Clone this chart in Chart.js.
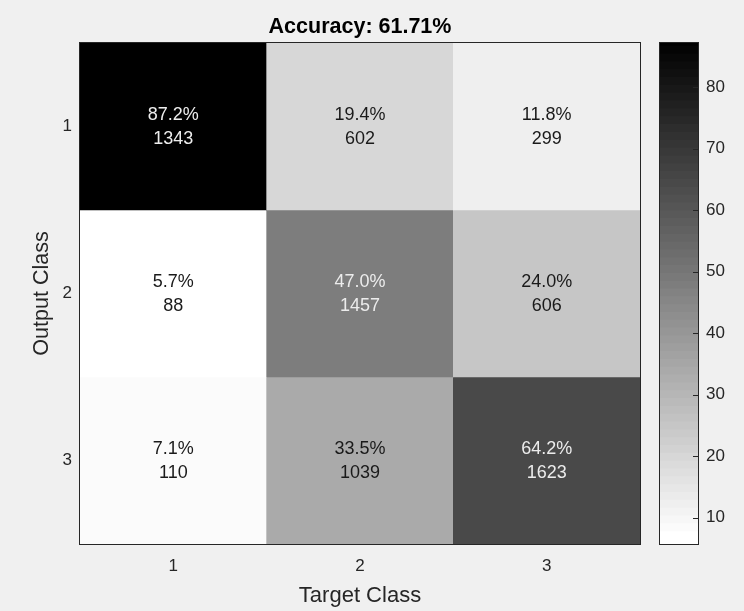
<!DOCTYPE html>
<html lang="en">
<head>
    <meta charset="UTF-8">
    <title>Matrice de confusion</title>
    <script src="https://cdn.jsdelivr.net/npm/chart.js@4.4.0/dist/chart.umd.min.js"></script>
    <style>
        body { margin: 0; background: #f0f0f0; }
        #zone { position: relative; width: 744px; height: 611px; }
        #zone canvas { position: absolute; left: 0; top: 0; }
    </style>
</head>
<body>
<div id="zone">
    <canvas id="matrice" width="744" height="611"></canvas>
    <canvas id="barre" width="744" height="611"></canvas>
</div>

<script>
    // classes (lignes = sortie, colonnes = cible)
    const classes = ['1', '2', '3'];
    const comptes = [
        [1343, 602, 299],
        [88, 1457, 606],
        [110, 1039, 1623]
    ];
    const pourcents = [
        [87.2, 19.4, 11.8],
        [5.7, 47.0, 24.0],
        [7.1, 33.5, 64.2]
    ];
    const titre = 'Accuracy: 61.71%';
    const barTicks = [10, 20, 30, 40, 50, 60, 70, 80];

    const police = "'Liberation Sans', Arial, sans-serif";
    const gris = '#262626';
    const NIVEAUX = 64;
    const vMin = Math.min(...pourcents.flat());
    const vMax = Math.max(...pourcents.flat());

    // colormap gris inversée (blanc = faible, noir = fort)
    let niveauGris = (v) => {
        let i = Math.floor((v - vMin) / (vMax - vMin) * NIVEAUX);
        i = Math.min(Math.max(i, 0), NIVEAUX - 1);
        return 1 - i / (NIVEAUX - 1);
    };
    let couleur = (g) => {
        let c = Math.round(g * 255);
        return 'rgb(' + c + ',' + c + ',' + c + ')';
    };

    // cadre autour de la zone du graphique
    const cadre = {
        id: 'cadre',
        afterDraw(chart) {
            let a = chart.chartArea;
            let ctx = chart.ctx;
            ctx.save();
            ctx.strokeStyle = gris;
            ctx.lineWidth = 1;
            ctx.strokeRect(Math.round(a.left) - 0.5, Math.round(a.top) - 0.5,
                Math.round(a.right - a.left) + 1, Math.round(a.bottom - a.top) + 1);
            ctx.restore();
        }
    };

    // pourcentage + nombre dans chaque case
    const texteCases = {
        id: 'texteCases',
        afterDatasetsDraw(chart) {
            let ctx = chart.ctx;
            ctx.save();
            ctx.font = '18px ' + police;
            ctx.textAlign = 'center';
            ctx.textBaseline = 'middle';
            chart.data.datasets.forEach((ds, i) => {
                chart.getDatasetMeta(i).data.forEach((bar, j) => {
                    let centre = bar.getCenterPoint();
                    let p = pourcents[i][j];
                    ctx.fillStyle = niveauGris(p) < 0.5 ? '#ececec' : '#1a1a1a';
                    ctx.fillText(p.toFixed(1) + '%', centre.x, centre.y - 11);
                    ctx.fillText(String(comptes[i][j]), centre.x, centre.y + 13);
                });
            });
            ctx.restore();
        }
    };

    // petits traits vers l'intérieur sur la barre de couleur
    const traits = {
        id: 'traits',
        afterDraw(chart) {
            let y = chart.scales.y;
            let a = chart.chartArea;
            let ctx = chart.ctx;
            ctx.save();
            ctx.strokeStyle = gris;
            ctx.lineWidth = 1;
            y.ticks.forEach(t => {
                let py = Math.round(y.getPixelForValue(t.value)) + 0.5;
                ctx.beginPath();
                ctx.moveTo(a.right - 5, py);
                ctx.lineTo(a.right, py);
                ctx.stroke();
            });
            ctx.restore();
        }
    };

    function buildMatrice() {
        let datasets = comptes.map((ligne, i) => ({
            label: 'Output ' + classes[i],
            data: ligne.map(() => 1),
            backgroundColor: pourcents[i].map(p => couleur(niveauGris(p))),
            borderWidth: 0,
            barPercentage: 1,
            categoryPercentage: 1
        }));

        return new Chart(document.querySelector('#matrice').getContext('2d'), {
            type: 'bar',
            data: { labels: classes, datasets: datasets },
            options: {
                responsive: false,
                animation: false,
                layout: { padding: { left: 0, right: 104, top: 0, bottom: 0 } },
                plugins: {
                    legend: { display: false },
                    tooltip: { enabled: false },
                    title: {
                        display: true,
                        text: titre,
                        fullSize: false,
                        color: '#000',
                        font: { family: police, size: 21.5, weight: 'bold' },
                        padding: { top: 14.5, bottom: 2.7 }
                    }
                },
                scales: {
                    x: {
                        stacked: true,
                        grid: { display: false, drawTicks: false },
                        border: { display: false },
                        ticks: { padding: 12, color: gris, font: { family: police, size: 17 } },
                        title: {
                            display: true, text: 'Target Class', color: gris,
                            font: { family: police, size: 22 },
                            padding: { top: 0, bottom: 1.8 }
                        },
                        afterFit: (s) => { s.height = 67; }
                    },
                    y: {
                        stacked: true,
                        reverse: true,
                        min: 0,
                        max: classes.length,
                        grid: { display: false, drawTicks: false },
                        border: { display: false },
                        afterBuildTicks: (s) => { s.ticks = classes.map((c, i) => ({ value: i + 0.5 })); },
                        ticks: {
                            padding: 8, color: gris, font: { family: police, size: 17 },
                            callback: (v) => classes[Math.floor(v)]
                        },
                        title: {
                            display: true, text: 'Output Class', color: gris,
                            font: { family: police, size: 21.5 },
                            padding: { top: 29.4, bottom: 0 }
                        },
                        afterFit: (s) => { s.width = 80; }
                    }
                }
            },
            plugins: [texteCases, cadre]
        });
    }

    function buildBarre() {
        // bandes de la colormap, du bas (blanc) vers le haut (noir)
        // chaque bande déborde un peu sous la suivante pour éviter les liserés
        let bandes = [];
        let pas = (vMax - vMin) / NIVEAUX;
        for (let i = 0; i < NIVEAUX; i++) {
            let bas = vMin + i * pas;
            bandes.push({
                data: [[bas, bas + pas * 1.6]],
                backgroundColor: couleur(1 - i / (NIVEAUX - 1)),
                borderWidth: 0,
                grouped: false,
                barPercentage: 1,
                categoryPercentage: 1
            });
        }

        return new Chart(document.querySelector('#barre').getContext('2d'), {
            type: 'bar',
            data: { labels: [''], datasets: bandes },
            options: {
                responsive: false,
                animation: false,
                layout: { padding: { left: 660, right: 0, top: 43, bottom: 67 } },
                plugins: { legend: { display: false }, tooltip: { enabled: false } },
                scales: {
                    x: { display: false },
                    y: {
                        position: 'right',
                        min: vMin,
                        max: vMax,
                        grid: { display: false, drawTicks: false },
                        border: { display: false },
                        afterBuildTicks: (s) => { s.ticks = barTicks.map(v => ({ value: v })); },
                        ticks: { padding: 8, color: gris, font: { family: police, size: 17 } },
                        afterFit: (s) => { s.width = 46; }
                    }
                }
            },
            plugins: [traits, cadre]
        });
    }

    buildMatrice();
    buildBarre();
</script>
</body>
</html>
